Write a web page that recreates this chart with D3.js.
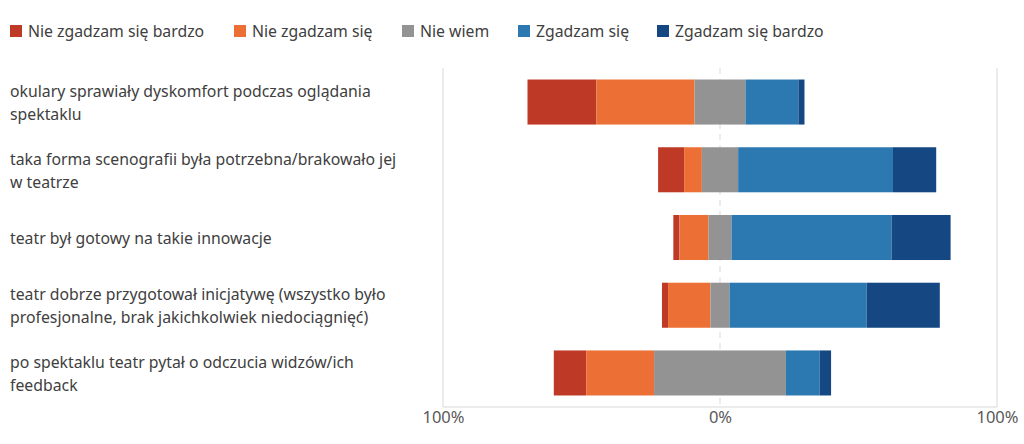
<!DOCTYPE html>
<html>
<head>
<meta charset="utf-8">
<script src="https://cdn.jsdelivr.net/npm/d3@7"></script>
<style>
  html, body { margin: 0; padding: 0; background: #fff; }
  svg { display: block; font-family: "Noto Sans", "Open Sans", sans-serif; }
</style>
</head>
<body>
<svg id="chart" width="1024" height="444"></svg>
<script>
// ---- data ----
const categories = [
  "okulary sprawiały dyskomfort podczas oglądania\nspektaklu",
  "taka forma scenografii była potrzebna/brakowało jej\nw teatrze",
  "teatr był gotowy na takie innowacje",
  "teatr dobrze przygotował inicjatywę (wszystko było\nprofesjonalne, brak jakichkolwiek niedociągnięć)",
  "po spektaklu teatr pytał o odczucia widzów/ich\nfeedback"
];
const seriesNames = ["Nie zgadzam się bardzo", "Nie zgadzam się", "Nie wiem", "Zgadzam się", "Zgadzam się bardzo"];
const stronglyDisagree = [24.9, 9.4, 2.2, 2.2, 11.7];
const disagree         = [35.4, 6.4, 10.5, 15.3, 24.5];
const neutral          = [18.4, 13.1, 8.3, 6.9, 47.6];
const agree            = [19.1, 55.9, 57.8, 49.5, 12.2];
const stronglyAgree    = [2.2, 15.6, 21.3, 26.4, 4.1];
const tickValues = [-100, 0, 100];
const tickLabels = ["100%", "0%", "100%"];
const colors = ["#BE3A27", "#EC7035", "#939393", "#2C79B1", "#154882"];

// ---- layout ----
const svg = d3.select("#chart");
const plot = { left: 443, right: 997, top: 68, bottom: 407 };

const x = d3.scaleLinear().domain([-100, 100]).range([plot.left, plot.right]);
const y = d3.scaleBand().domain(d3.range(categories.length))
  .range([plot.top, plot.bottom]).paddingInner(0.335).paddingOuter(0.17);

const values = [stronglyDisagree, disagree, neutral, agree, stronglyAgree];

// build segments for diverging stack
const segs = [];
categories.forEach((c, i) => {
  let start = -(stronglyDisagree[i] + disagree[i] + neutral[i] / 2);
  values.forEach((arr, s) => {
    segs.push({ cat: i, s, x0: start, x1: start + arr[i] });
    start += arr[i];
  });
});

// gridlines (frame)
const g = svg.append("g");
g.append("line").attr("x1", plot.left).attr("x2", plot.left)
  .attr("y1", plot.top).attr("y2", plot.bottom).attr("stroke", "#d9d9d9").attr("stroke-width", 1);
g.append("line").attr("x1", plot.right).attr("x2", plot.right)
  .attr("y1", plot.top).attr("y2", plot.bottom).attr("stroke", "#d9d9d9").attr("stroke-width", 1);
g.append("line").attr("x1", plot.left).attr("x2", plot.right)
  .attr("y1", plot.bottom).attr("y2", plot.bottom).attr("stroke", "#d9d9d9").attr("stroke-width", 1);
g.append("line").attr("x1", x(0)).attr("x2", x(0))
  .attr("y1", plot.top).attr("y2", plot.bottom)
  .attr("stroke", "#d9d9d9").attr("stroke-width", 1).attr("stroke-dasharray", "6,5");

// bars
svg.append("g").selectAll("rect").data(segs).join("rect")
  .attr("x", d => x(d.x0))
  .attr("width", d => x(d.x1) - x(d.x0))
  .attr("y", d => y(d.cat))
  .attr("height", y.bandwidth())
  .attr("fill", d => colors[d.s]);

// x axis labels
const axis = d3.axisBottom(x).tickValues(tickValues)
  .tickFormat((d, i) => tickLabels[i]).tickSize(0).tickPadding(4);
const ax = svg.append("g").attr("transform", `translate(0,${plot.bottom})`).call(axis);
ax.select(".domain").remove();
ax.selectAll("text").attr("font-size", 16.5).attr("fill", "#595959")
  .attr("font-family", "Noto Sans, sans-serif");

// category labels
const lab = svg.append("g");
categories.forEach((c, i) => {
  const lines = c.split("\n");
  const cy = y(i) + y.bandwidth() / 2 + 1;
  const lh = 23;
  const t = lab.append("text").attr("x", 10).attr("font-size", 15.8).attr("fill", "#404040");
  lines.forEach((ln, k) => {
    t.append("tspan").attr("x", 10)
      .attr("y", cy + (k - (lines.length - 1) / 2) * lh)
      .attr("dy", "0.35em").text(ln);
  });
});

// legend
const legendX = [10, 234, 402, 518, 657];
const leg = svg.append("g");
seriesNames.forEach((n, i) => {
  const it = leg.append("g").attr("transform", `translate(${legendX[i]},31)`);
  it.append("rect").attr("x", 0).attr("y", -6).attr("width", 12).attr("height", 12).attr("fill", colors[i]);
  it.append("text").attr("x", 18).attr("y", 0).attr("dy", "0.35em")
    .attr("font-size", 15.8).attr("fill", "#404040").text(n);
});
</script>
</body>
</html>
